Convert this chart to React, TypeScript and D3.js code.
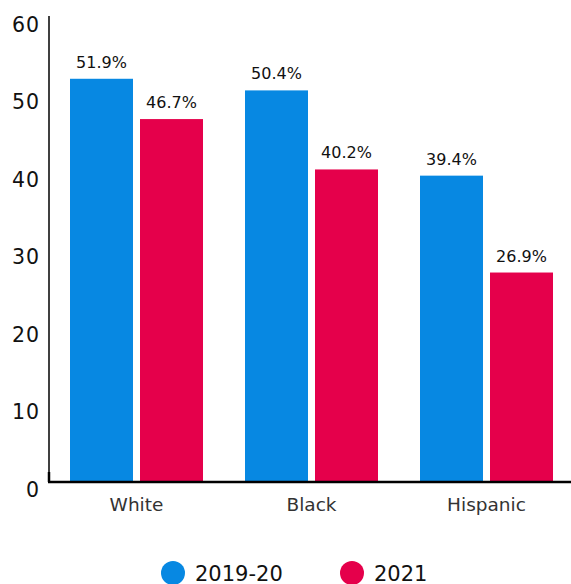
import React from "react";
import * as d3 from "d3";

const categories = ["White", "Black", "Hispanic"];
const seriesNames = ["2019-20", "2021"];
const values2019 = [51.9, 50.4, 39.4];
const values2021 = [46.7, 40.2, 26.9];
const yTicks = [0, 10, 20, 30, 40, 50, 60];
const colors = ["#0788e2", "#e5004b"];

const W = 571;
const H = 584;
const FONT = "'DejaVu Sans', sans-serif";

export default function App() {
  const x0 = d3.scaleBand<string>().domain(categories).range([49, 574]).paddingInner(0.24).paddingOuter(0.12);
  const x1 = d3.scaleBand<string>().domain(seriesNames).range([0, x0.bandwidth()]).paddingInner(0.1);
  const y = d3.scaleLinear().domain([0, 60]).range([481, 16]);
  const series = [values2019, values2021];

  return (
    <svg width={W} height={H} style={{ position: "absolute", left: 0, top: 0, background: "#fff" }}>
      {categories.map((c, i) => (
        <g key={c} transform={`translate(${x0(c)},0)`}>
          {seriesNames.map((s, j) => {
            const v = series[j][i];
            const bx = x1(s)!;
            return (
              <g key={s}>
                <rect x={bx} y={y(v)} width={x1.bandwidth()} height={y(0) - y(v)} fill={colors[j]} />
                <text
                  x={bx + x1.bandwidth() / 2}
                  y={y(v) - 11}
                  textAnchor="middle"
                  fontFamily={FONT}
                  fontSize={16}
                  fill="#111"
                >
                  {v.toFixed(1)}%
                </text>
              </g>
            );
          })}
          <text
            x={x0.bandwidth() / 2}
            y={511}
            textAnchor="middle"
            fontFamily={FONT}
            fontSize={18.5}
            fill="#333"
          >
            {c}
          </text>
        </g>
      ))}
      {yTicks.map((t) => (
        <text
          key={t}
          x={40}
          y={y(t) + 15.5}
          textAnchor="end"
          fontFamily={FONT}
          fontSize={20.5}
          letterSpacing={1}
          fill="#111"
        >
          {t}
        </text>
      ))}
      <line x1={49} x2={49} y1={16} y2={482} stroke="#000" strokeWidth={1.5} />
      <line x1={49} x2={49} y1={472} y2={482} stroke="#000" strokeWidth={2.5} />
      <line x1={48} x2={W} y1={y(0) + 1} y2={y(0) + 1} stroke="#000" strokeWidth={2.5} />
      {seriesNames.map((s, j) => {
        const lx = j === 0 ? 173 : 352;
        return (
          <g key={s}>
            <circle cx={lx} cy={573} r={12} fill={colors[j]} />
            <text x={lx + 22} y={580.5} fontFamily={FONT} fontSize={21} fill="#111">
              {s}
            </text>
          </g>
        );
      })}
    </svg>
  );
}
